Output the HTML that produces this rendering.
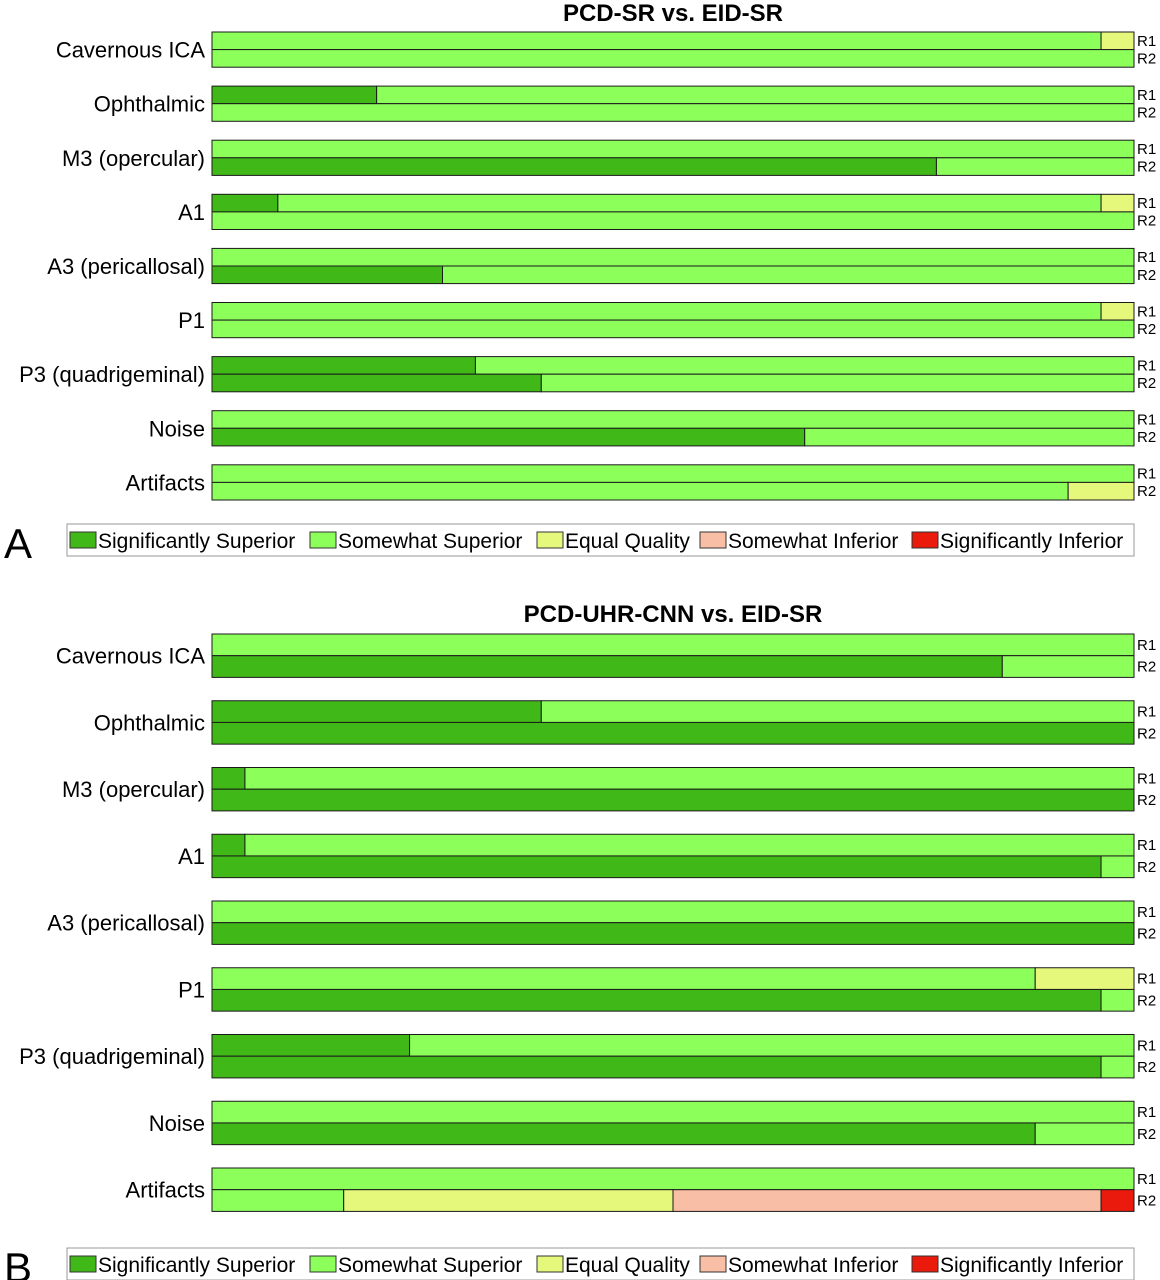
<!DOCTYPE html>
<html><head><meta charset="utf-8"><style>
html,body{margin:0;padding:0;background:#fff;}
svg{display:block;font-family:"Liberation Sans",sans-serif;}
</style></head><body>
<svg id="chart" width="1160" height="1280" viewBox="0 0 1160 1280"></svg>
<script>
const categories = ["Cavernous ICA","Ophthalmic","M3 (opercular)","A1","A3 (pericallosal)","P1","P3 (quadrigeminal)","Noise","Artifacts"];
const levels = ["Significantly Superior","Somewhat Superior","Equal Quality","Somewhat Inferior","Significantly Inferior"];
const colors = ["#40b817","#8cff5a","#e6f87c","#f8bfa6","#ea1a0c"];
const total = 28;
// Panel A counts per category: [R1, R2], each [SS, S, E, SI, SgI]
const panelA = [
 [[0,27,1,0,0],[0,28,0,0,0]],
 [[5,23,0,0,0],[0,28,0,0,0]],
 [[0,28,0,0,0],[22,6,0,0,0]],
 [[2,25,1,0,0],[0,28,0,0,0]],
 [[0,28,0,0,0],[7,21,0,0,0]],
 [[0,27,1,0,0],[0,28,0,0,0]],
 [[8,20,0,0,0],[10,18,0,0,0]],
 [[0,28,0,0,0],[18,10,0,0,0]],
 [[0,28,0,0,0],[0,26,2,0,0]]
];
const panelB = [
 [[0,28,0,0,0],[24,4,0,0,0]],
 [[10,18,0,0,0],[28,0,0,0,0]],
 [[1,27,0,0,0],[28,0,0,0,0]],
 [[1,27,0,0,0],[27,1,0,0,0]],
 [[0,28,0,0,0],[28,0,0,0,0]],
 [[0,25,3,0,0],[27,1,0,0,0]],
 [[6,22,0,0,0],[27,1,0,0,0]],
 [[0,28,0,0,0],[25,3,0,0,0]],
 [[0,28,0,0,0],[0,4,10,13,1]]
];
const NS="http://www.w3.org/2000/svg";
const svg=document.getElementById('chart');
function mk(tag,attrs,parent){const e=document.createElementNS(NS,tag);for(const k in attrs)e.setAttribute(k,attrs[k]);(parent||svg).appendChild(e);return e;}
const x0=212,x1=1134;
const xScale=v=>x0+(x1-x0)*v/total;

function panel(cfg){
  const g=mk('g',{});
  
  
  const t=mk('text',{x:673,y:cfg.titleY,'text-anchor':'middle','font-size':24,'font-weight':'bold',fill:'#000'},g);
  t.textContent=cfg.title;
  
  
  cfg.data.forEach((rows,i)=>{
    const top=cfg.top+i*cfg.pitch;
    const lab=mk('text',{x:205,y:top+cfg.rowH+8,'text-anchor':'end','font-size':22,fill:'#000'},g);
    lab.textContent=categories[i];
    
    
    rows.forEach((vals,r)=>{
      const y=top+r*cfg.rowH;
      let acc=0;
      vals.forEach((v,k)=>{
        if(v<=0)return;
        const rect=mk('rect',{x:xScale(acc),y:y,width:xScale(acc+v)-xScale(acc),height:cfg.rowH,fill:colors[k],stroke:'#1a1a1a','stroke-width':1},g);
        
        
        acc+=v;
      });
      const rl=mk('text',{x:1137,y:y+cfg.rowH/2+5,'font-size':15,fill:'#000'},g);
      rl.textContent='R'+(r+1);
      
      
    });
  });
  // legend
  const lg=mk('g',{},g);
  
  
  mk('rect',{x:67,y:cfg.legY,width:1067,height:32,fill:'#fff',stroke:'#999','stroke-width':1},lg);
  const xs=[70,310,537,700,912];
  levels.forEach((n,k)=>{
    const sw=mk('rect',{x:xs[k],y:cfg.legY+8,width:26,height:16,fill:colors[k],stroke:'#333','stroke-width':1},lg);
    
    
    const tx=mk('text',{x:xs[k]+28,y:cfg.legY+24,'font-size':21,fill:'#000'},lg);
    tx.textContent=n;
    
    
  });
  const pl=mk('text',{x:4,y:cfg.legY+34,'font-size':42,fill:'#000'},g);
  pl.textContent=cfg.letter;
  
  
}
panel({name:'panel-a',title:'PCD-SR vs. EID-SR',titleY:21,data:panelA,top:32,pitch:54.1,rowH:17.6,legY:524,letter:'A'});
panel({name:'panel-b',title:'PCD-UHR-CNN vs. EID-SR',titleY:622,data:panelB,top:634,pitch:66.75,rowH:21.7,legY:1248,letter:'B'});
</script>
</body></html>
